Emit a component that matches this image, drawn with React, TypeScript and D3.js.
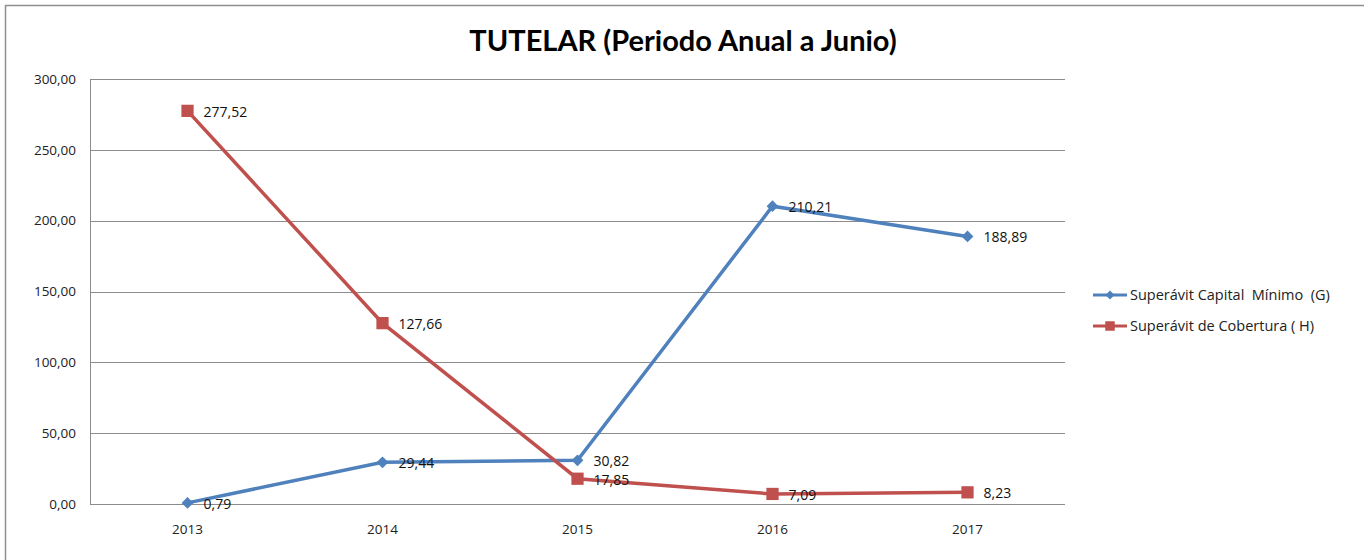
import React, { useEffect, useRef } from "react";
import * as d3 from "d3";

const years = ["2013", "2014", "2015", "2016", "2017"];
const capitalMinimo = [0.79, 29.44, 30.82, 210.21, 188.89];
const cobertura = [277.52, 127.66, 17.85, 7.09, 8.23];
const yTicks = [0, 50, 100, 150, 200, 250, 300];

const fmt = (v: number) => v.toFixed(2).replace(".", ",");

const App = () => {
  const ref = useRef<SVGGElement>(null);

  useEffect(() => {
    const svg = d3.select(ref.current);
    svg.selectAll("*").remove();

    const margin = { top: 79, left: 90, right: 299, bottom: 56 };
    const W = 1364;
    const H = 560;
    const innerW = W - margin.left - margin.right;
    const innerH = H - margin.top - margin.bottom;

    svg
      .append("text")
      .attr("x", 683)
      .attr("y", 51)
      .attr("text-anchor", "middle")
      .style("font-family", "Lato, 'Open Sans', sans-serif")
      .style("font-size", "29px")
      .style("font-weight", "bold")
      .text("TUTELAR (Periodo Anual a Junio)");

    const g = svg
      .append("g")
      .attr("transform", `translate(${margin.left},${margin.top})`);

    const x = d3.scaleBand().domain(years).range([0, innerW]);
    const y = d3.scaleLinear().domain([0, 300]).range([innerH, 0]);

    // gridlines
    g.selectAll(".grid")
      .data(yTicks)
      .enter()
      .append("line")
      .attr("x1", 0)
      .attr("x2", innerW)
      .attr("y1", (d) => Math.round(y(d)) + 0.5)
      .attr("y2", (d) => Math.round(y(d)) + 0.5)
      .attr("stroke", "#8c8c8c")
      .attr("stroke-width", 1);

    g.append("line")
      .attr("x1", 0.5)
      .attr("x2", 0.5)
      .attr("y1", 0)
      .attr("y2", innerH)
      .attr("stroke", "#8c8c8c");

    g.selectAll(".ytick")
      .data(yTicks)
      .enter()
      .append("text")
      .attr("x", -14)
      .attr("y", (d) => y(d))
      .attr("dy", "0.35em")
      .attr("text-anchor", "end")
      .style("font-family", "'Open Sans', sans-serif")
      .style("font-size", "13.5px")
      .attr("fill", "#222")
      .text((d) => fmt(d));

    g.selectAll(".xtick")
      .data(years)
      .enter()
      .append("text")
      .attr("x", (d) => (x(d) as number) + x.bandwidth() / 2)
      .attr("y", innerH + 30)
      .attr("text-anchor", "middle")
      .style("font-family", "'Open Sans', sans-serif")
      .style("font-size", "13.5px")
      .attr("fill", "#222")
      .text((d) => d);

    const cx = (i: number) => (x(years[i]) as number) + x.bandwidth() / 2;

    const series = [
      { name: "Superávit Capital  Mínimo  (G)", values: capitalMinimo, color: "#4f81bd", marker: "diamond" },
      { name: "Superávit de Cobertura ( H)", values: cobertura, color: "#c0504d", marker: "square" },
    ];

    const line = d3
      .line<number>()
      .x((_, i) => cx(i))
      .y((d) => y(d));

    series.forEach((s) => {
      g.append("path")
        .datum(s.values)
        .attr("d", line)
        .attr("fill", "none")
        .attr("stroke", s.color)
        .attr("stroke-width", 3.5);
    });

    const markerPath = (m: string, big: boolean) =>
      m === "diamond"
        ? d3.symbol().type(d3.symbolSquare).size(big ? 70 : 40)()
        : d3.symbol().type(d3.symbolSquare).size(big ? 150 : 90)();
    const rot = (m: string) => (m === "diamond" ? " rotate(45)" : "");

    series.forEach((s) => {
      g.selectAll(null)
        .data(s.values)
        .enter()
        .append("path")
        .attr("d", markerPath(s.marker, true))
        .attr("transform", (d, i) => `translate(${cx(i)},${y(d)})${rot(s.marker)}`)
        .attr("fill", s.color);

      g.selectAll(null)
        .data(s.values)
        .enter()
        .append("text")
        .attr("x", (d, i) => cx(i) + 16)
        .attr("y", (d) => y(d) + 1)
        .attr("dy", "0.35em")
        .style("font-family", "'Open Sans', sans-serif")
        .style("font-size", "14px")
        .attr("fill", "#111")
        .text((d) => fmt(d));
    });

    // legend
    const lg = svg.append("g").attr("transform", "translate(1093,295)");
    series.forEach((s, i) => {
      const row = lg.append("g").attr("transform", `translate(0,${i * 31})`);
      row
        .append("line")
        .attr("x1", 0)
        .attr("x2", 34)
        .attr("stroke", s.color)
        .attr("stroke-width", 3);
      row
        .append("path")
        .attr("d", markerPath(s.marker, false))
        .attr("transform", `translate(17,0)${rot(s.marker)}`)
        .attr("fill", s.color);
      row
        .append("text")
        .attr("x", 37)
        .attr("dy", "0.35em")
        .style("font-family", "'Open Sans', sans-serif")
        .style("font-size", "14.5px")
        .style("white-space", "pre")
        .attr("fill", "#222")
        .text(s.name);
    });
  }, []);

  return (
    <svg width={1364} height={560} style={{ display: "block", position: "absolute", left: 0, top: 0 }}>
      <rect x={0} y={0} width={1364} height={560} fill="white" />
      <line x1={5.5} y1={5} x2={5.5} y2={560} stroke="#8f8f8f" strokeWidth={1.5} />
      <line x1={5} y1={5.5} x2={1364} y2={5.5} stroke="#8f8f8f" strokeWidth={1.5} />
      <g ref={ref} />
    </svg>
  );
};

export default App;
